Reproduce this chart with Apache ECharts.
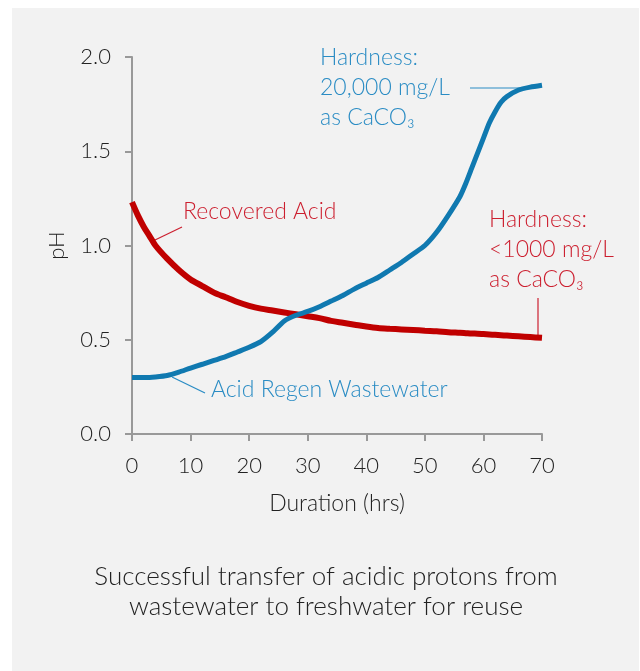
<!DOCTYPE html>
<html>
<head>
<meta charset="utf-8">
<script src="https://cdn.jsdelivr.net/npm/echarts@6/dist/echarts.min.js"></script>
<style>
  html, body { margin: 0; padding: 0; background: #fff; }
  #panel { position: absolute; left: 12px; top: 8px; width: 627px; height: 663px; background: #f2f2f2; }
  #chart { position: absolute; left: 0; top: 0; width: 640px; height: 671px; }
</style>
</head>
<body>
<div id="panel"></div>
<div id="chart"></div>
<script>
// hours and pH readings
var hours = [0, 1, 2, 3, 4, 6, 8, 10, 12, 14, 16, 18, 20, 22, 24, 26, 28, 30, 32, 34, 36, 38, 40, 42, 44, 46, 48, 50, 52, 54, 56, 57, 58, 59, 60, 61, 62, 63, 64, 66, 68, 70];
var wastewater = [0.30, 0.30, 0.30, 0.30, 0.302, 0.31, 0.328, 0.35, 0.37, 0.39, 0.41, 0.435, 0.46, 0.49, 0.54, 0.60, 0.63, 0.65, 0.675, 0.705, 0.735, 0.77, 0.80, 0.83, 0.87, 0.91, 0.955, 1.0, 1.07, 1.16, 1.26, 1.33, 1.41, 1.49, 1.57, 1.65, 1.71, 1.76, 1.79, 1.825, 1.84, 1.85];
var recovered = [1.23, 1.16, 1.10, 1.05, 1.00, 0.93, 0.87, 0.82, 0.785, 0.75, 0.725, 0.70, 0.68, 0.665, 0.655, 0.645, 0.635, 0.625, 0.615, 0.60, 0.59, 0.58, 0.57, 0.562, 0.558, 0.555, 0.552, 0.548, 0.545, 0.54, 0.537, 0.535, 0.533, 0.532, 0.53, 0.528, 0.526, 0.524, 0.522, 0.518, 0.514, 0.51];

var blue = "#1079b0";
var red = "#c00000";
var blueText = "#2a8cc4";
var redText = "#cc1f2f";
var font = "Lato, 'Open Sans', sans-serif";

function pairs(xs, ys) {
  var out = [];
  xs.forEach(function (x, i) { out.push([x, ys[i]]); });
  return out;
}

var myChart = echarts.init(document.getElementById("chart"));
myChart.setOption({
  backgroundColor: "transparent",
  animation: false,
  textStyle: { fontFamily: font, fontWeight: 300 },
  grid: { left: 132, right: 98, top: 57, bottom: 237 },
  xAxis: {
    type: "value",
    min: 0, max: 70, interval: 10,
    name: "Duration (hrs)",
    nameLocation: "middle",
    nameGap: 58,
    nameTextStyle: { color: "#222", fontSize: 23, fontFamily: font, fontWeight: 300 },
    axisLine: { lineStyle: { color: "#999", width: 2 } },
    axisTick: { show: true, length: 7, lineStyle: { color: "#999", width: 2 } },
    axisLabel: { color: "#222", fontSize: 22, margin: 21, fontFamily: font, fontWeight: 300 },
    splitLine: { show: false }
  },
  yAxis: {
    type: "value",
    min: 0, max: 2, interval: 0.5,
    name: "pH",
    nameLocation: "middle",
    nameGap: 64,
    nameTextStyle: { color: "#222", fontSize: 22, fontFamily: font, fontWeight: 300 },
    axisLine: { show: true, lineStyle: { color: "#999", width: 2 } },
    axisTick: { show: true, length: 7, lineStyle: { color: "#999", width: 2 } },
    axisLabel: { color: "#222", fontSize: 22, margin: 21, fontFamily: font, fontWeight: 300,
      formatter: function (v) { return v.toFixed(1); } },
    splitLine: { show: false }
  },
  series: [
    {
      name: "Acid Regen Wastewater",
      type: "line",
      data: pairs(hours, wastewater),
      smooth: 0.2,
      showSymbol: false,
      lineStyle: { color: blue, width: 5 },
      z: 3
    },
    {
      name: "Recovered Acid",
      type: "line",
      data: pairs(hours, recovered),
      smooth: 0.3,
      showSymbol: false,
      lineStyle: { color: red, width: 6 },
      z: 2
    }
  ],
  graphic: [
    // blue top annotation
    { type: "text", x: 320, y: 43, style: { text: "Hardness:\n20,000 mg/L\nas CaCO₃", fill: blueText, font: "300 23px " + font, lineHeight: 30 } },
    { type: "line", shape: { x1: 470, y1: 88, x2: 530, y2: 88 }, style: { stroke: blueText, lineWidth: 1.2 } },
    // recovered acid label
    { type: "text", x: 183, y: 200, style: { text: "Recovered Acid", fill: redText, font: "300 23px " + font } },
    { type: "line", shape: { x1: 182, y1: 227, x2: 155, y2: 240 }, style: { stroke: redText, lineWidth: 1.2 } },
    // red right annotation
    { type: "text", x: 489, y: 205, style: { text: "Hardness:\n<1000 mg/L\nas CaCO₃", fill: redText, font: "300 23px " + font, lineHeight: 30 } },
    { type: "line", shape: { x1: 538, y1: 298, x2: 538, y2: 338 }, style: { stroke: redText, lineWidth: 1.2 } },
    // wastewater label
    { type: "text", x: 211, y: 378, style: { text: "Acid Regen Wastewater", fill: blueText, font: "300 23px " + font } },
    { type: "line", shape: { x1: 172, y1: 377, x2: 205, y2: 393 }, style: { stroke: blueText, lineWidth: 1.2 } },
    // caption
    { type: "text", x: 326, y: 562, style: { text: "Successful transfer of acidic protons from\nwastewater to freshwater for reuse", fill: "#222", font: "300 26px " + font, lineHeight: 30, textAlign: "center" } }
  ]
});

window.addEventListener("resize", function () {
  myChart.resize();
});
</script>
</body>
</html>
